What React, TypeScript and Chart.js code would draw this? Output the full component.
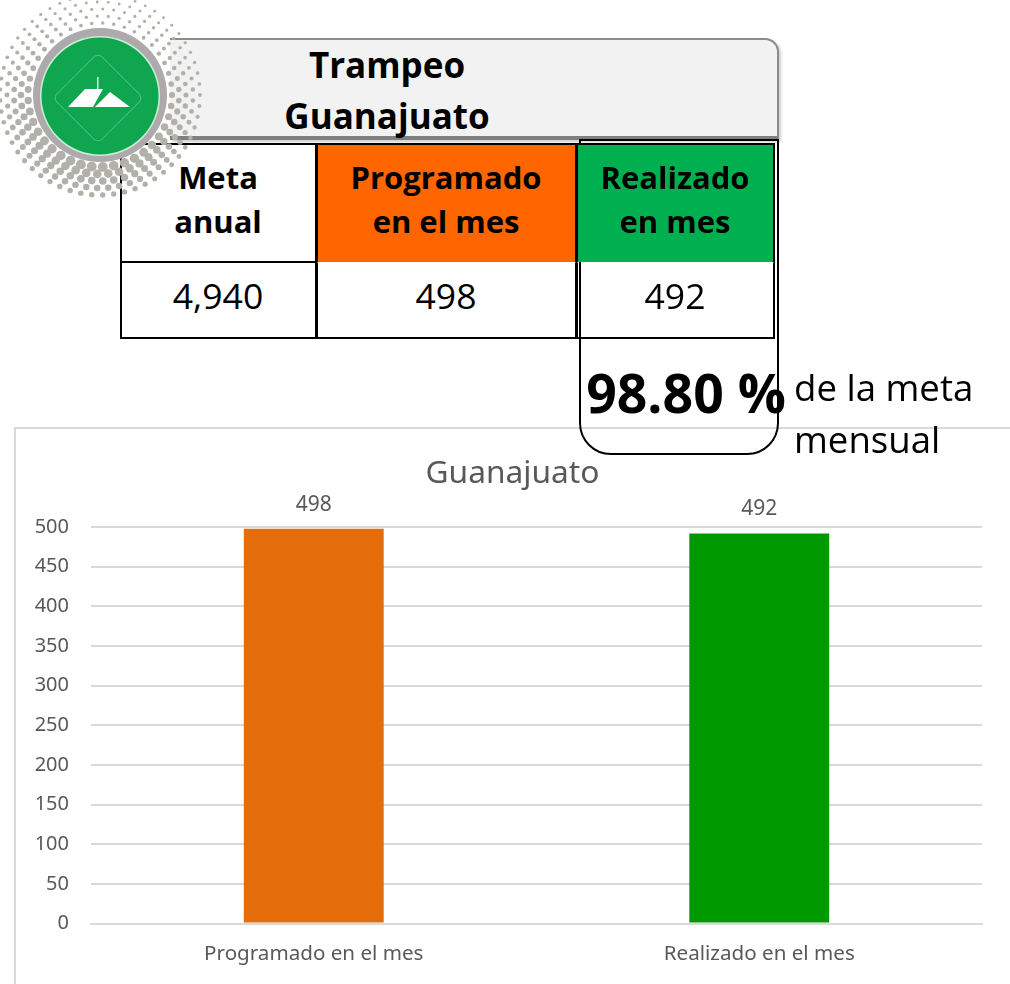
import React, { useEffect, useRef } from "react";
import { Chart, registerables } from "chart.js";

Chart.register(...registerables);

const categories = ["Programado en el mes", "Realizado en el mes"];
const values = [498, 492];
const barColors = ["#e46c0a", "#009900"];
const chartTitle = "Guanajuato";
const headerTitle = ["Trampeo", "Guanajuato"];
const tableHeaders = [["Meta", "anual"], ["Programado", "en el mes"], ["Realizado", "en mes"]];
const tableValues = ["4,940", "498", "492"];
const percentText = "98.80 %";
const noteLines = ["de la meta", "mensual"];

const CHART_FONT = "'Noto Sans', 'Open Sans', sans-serif";
const TABLE_FONT = "'Open Sans', 'Noto Sans', sans-serif";

const barLabels = {
  id: "barLabels",
  afterDatasetsDraw(chart: any) {
    const { ctx } = chart;
    const meta = chart.getDatasetMeta(0);
    ctx.save();
    ctx.font = `21px ${CHART_FONT}`;
    ctx.fillStyle = "#595959";
    ctx.textAlign = "center";
    ctx.textBaseline = "middle";
    meta.data.forEach((bar: any, i: number) => {
      ctx.fillText(String(values[i]), bar.x, bar.y - 24);
    });
    ctx.restore();
  },
};

function BarChart() {
  const ref = useRef<HTMLCanvasElement>(null);
  useEffect(() => {
    const chart = new Chart(ref.current!, {
      type: "bar",
      data: {
        labels: categories,
        datasets: [{ data: values, backgroundColor: barColors, barPercentage: 1, categoryPercentage: 0.314, yAxisID: "y" }],
      },
      plugins: [barLabels],
      options: {
        animation: false,
        responsive: false,
        layout: { padding: 0 },
        plugins: {
          legend: { display: false },
          tooltip: { enabled: false },
          title: {
            display: true,
            text: chartTitle,
            color: "#595959",
            font: { family: CHART_FONT, size: 31.7, weight: "normal" },
            padding: { top: 27, bottom: 34 },
          },
        },
        scales: {
          x: {
            grid: { display: false, drawTicks: false },
            border: { display: true, color: "#d9d9d9", width: 2 },
            ticks: { color: "#595959", font: { family: CHART_FONT, size: 20.6 }, padding: 18 },
            afterFit(s: any) { s.height = 60.5; },
          },
          y: {
            min: 0,
            max: 500,
            grid: { color: "#d9d9d9", lineWidth: 2, drawTicks: false },
            border: { display: false },
            ticks: { stepSize: 50, color: "#595959", font: { family: CHART_FONT, size: 20 }, padding: 22 },
            afterFit(s: any) { s.width = 76; },
          },
          rightGap: {
            position: "right",
            grid: { display: false, drawTicks: false },
            border: { display: false },
            ticks: { display: false },
            afterFit(s: any) { s.width = 28; },
          },
        },
      },
    } as any);
    return () => chart.destroy();
  }, []);
  return (
    <canvas
      ref={ref}
      width={995}
      height={556}
      style={{ position: "absolute", left: 15, top: 428, display: "block" }}
    />
  );
}

const dots: { x: number; y: number; r: number }[] = [];
const rings = [72, 79, 86, 93, 100];
rings.forEach((radius, ri) => {
  const n = Math.round((radius * 2 * Math.PI) / 11);
  for (let i = 0; i < n; i++) {
    const a = ((i + (ri % 2) * 0.5) / n) * Math.PI * 2;
    const weight = (1 + Math.sin(a - 0.15)) / 2;
    const fade = 1 - ri / 7;
    dots.push({ x: 100 + radius * Math.cos(a), y: 95 + radius * Math.sin(a), r: 1.1 + 3.2 * weight * fade + 0.6 * fade });
  }
});

function Logo() {
  return (
    <svg width={205} height={200} style={{ position: "absolute", left: 0, top: 0 }}>
      {dots.map((d, i) => (
        <circle key={i} cx={d.x} cy={d.y} r={d.r} fill="#b1b1a9" />
      ))}
      <circle cx={100} cy={95} r={67} fill="#aeaaac" />
      <circle cx={100} cy={96} r={60} fill="#c9f0d8" />
      <circle cx={100} cy={96} r={58.5} fill="#10a650" />
      <rect x={66} y={66} width={64} height={64} rx={6} transform="rotate(45 98 98)" fill="none" stroke="#52c183" strokeWidth={1} />
      <path d="M97 77 h1.5 v12 h-1.5 z" fill="#d8f0e0" />
      <path d="M68 107 L85 89 H103 L93 107 Z" fill="#fff" />
      <path d="M95 107 L110 92 L130 107 Z" fill="#fff" />
    </svg>
  );
}

const textBase: React.CSSProperties = { position: "absolute", fontFamily: TABLE_FONT, color: "#000", textAlign: "center", whiteSpace: "nowrap" };
const cols = [[120, 196], [316, 260], [576, 198]];
const headFill = ["#ffffff", "#ff6600", "#00b050"];

export default function App() {
  return (
    <div style={{ position: "absolute", left: 0, top: 0, width: 1010, height: 984, background: "#fff", overflow: "hidden" }}>
      <div style={{ position: "absolute", left: 14, top: 427, width: 1010, height: 600, borderLeft: "2px solid #d9d9d9", borderTop: "2px solid #d9d9d9", boxSizing: "border-box" }} />
      <BarChart />
      <div style={{ position: "absolute", left: 170, top: 38, width: 609, height: 102, boxSizing: "border-box", background: "#f2f2f2", border: "2px solid #8c8c8c", borderBottom: "4px solid #7f7f7f", borderLeft: "none", borderTopRightRadius: 14, boxShadow: "2px 2px 3px rgba(0,0,0,0.2)" }} />
      {headerTitle.map((t, i) => (
        <div key={t} style={{ ...textBase, left: 187, width: 400, top: 39 + i * 51, height: 52, lineHeight: "52px", fontSize: 35, fontWeight: 700 }}>{t}</div>
      ))}
      <div style={{ position: "absolute", left: 579, top: 139, width: 200, height: 316, boxSizing: "border-box", border: "2px solid #000", borderBottomLeftRadius: 32, borderBottomRightRadius: 32 }} />
      {cols.map(([x, w], i) => (
        <React.Fragment key={i}>
          <div style={{ position: "absolute", left: x, top: 143, width: w + 1, height: 119, boxSizing: "border-box", background: headFill[i], border: "2px solid #000", borderBottom: "none" }} />
          {tableHeaders[i].map((t, j) => (
            <div key={t} style={{ ...textBase, left: x, width: w, top: 155 + j * 44, height: 44, lineHeight: "44px", fontSize: 31, fontWeight: 700 }}>{t}</div>
          ))}
          <div style={{ position: "absolute", left: x, top: 261, width: w + 1, height: 78, boxSizing: "border-box", border: "2px solid #000", borderTopColor: i === 0 ? "#000" : "transparent" }} />
          <div style={{ ...textBase, left: x, width: w, top: 271, height: 48, lineHeight: "48px", fontSize: 35.5 }}>{tableValues[i]}</div>
        </React.Fragment>
      ))}
      <div style={{ ...textBase, left: 561, width: 250, top: 360, height: 66, lineHeight: "66px", fontSize: 53.5, fontWeight: 700 }}>{percentText}</div>
      {noteLines.map((t, i) => (
        <div key={t} style={{ ...textBase, textAlign: "left", left: 794, top: 362 + i * 52, height: 50, lineHeight: "50px", fontSize: 36.6 }}>{t}</div>
      ))}
      <Logo />
    </div>
  );
}
